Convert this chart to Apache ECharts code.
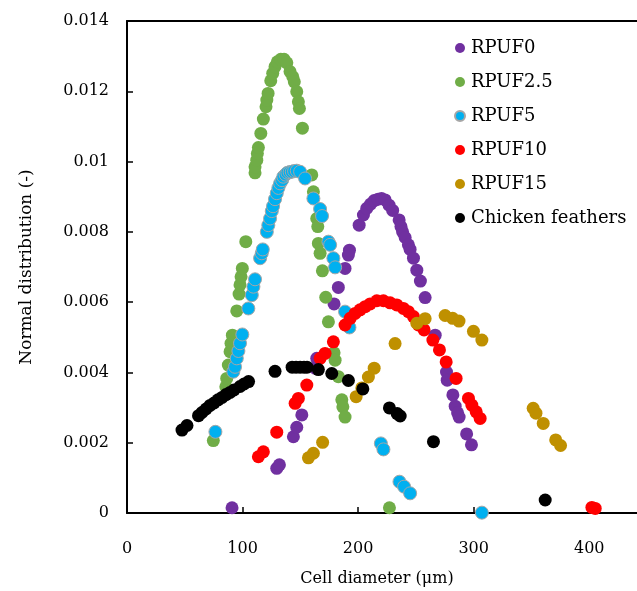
<!DOCTYPE html>
<html>
<head>
<meta charset="utf-8">
<script src="https://cdn.jsdelivr.net/npm/echarts@6/dist/echarts.min.js"></script>
<style>html,body{margin:0;padding:0;background:#fff}#c{width:637px;height:591px}</style>
</head>
<body>
<div id="c"></div>
<script>
const seriesNames = ['RPUF0', 'RPUF2.5', 'RPUF5', 'RPUF10', 'RPUF15', 'Chicken feathers'];
const yTickLabels = ['0', '0.002', '0.004', '0.006', '0.008', '0.01', '0.012', '0.014'];
const xTickLabels = ['0', '100', '200', '300', '400'];

const rpuf0 = [[90.9,0.00015],[129.6,0.00127],[131.9,0.00137],[144.0,0.00217],[146.9,0.00244],[151.3,0.00279],[162.8,0.00412],[164.2,0.0044],[179.2,0.00595],[182.9,0.00642],[188.7,0.00696],[191.6,0.00734],[192.5,0.00748],[200.9,0.00819],[204.6,0.00848],[207.5,0.00867],[210.8,0.00879],[213.9,0.00889],[217.3,0.00893],[220.3,0.00895],[223.4,0.00891],[226.8,0.00876],[229.9,0.00861],[235.5,0.00834],[237.1,0.00815],[238.5,0.008],[240.7,0.00784],[243.5,0.00763],[245.0,0.0075],[247.9,0.00725],[250.8,0.00691],[253.9,0.0066],[258.0,0.00613],[266.7,0.00506],[276.5,0.00401],[277.1,0.00378],[282.0,0.00336],[284.0,0.00304],[286.1,0.00285],[287.4,0.00273],[293.9,0.00225],[298.1,0.00194]];

const rpuf25 = [[74.7,0.00206],[85.5,0.00359],[86.3,0.00383],[87.7,0.00421],[89.2,0.00459],[90.0,0.00483],[91.2,0.00506],[95.0,0.00575],[97.0,0.00623],[97.8,0.00649],[98.7,0.00672],[99.8,0.00696],[102.8,0.00772],[110.8,0.00968],[110.8,0.00985],[112.3,0.01004],[112.8,0.01023],[113.7,0.0104],[115.8,0.0108],[118.0,0.01121],[120.3,0.01156],[121.0,0.01175],[122.1,0.01194],[124.4,0.0123],[126.1,0.01251],[128.1,0.0127],[130.1,0.01284],[133.1,0.01291],[135.9,0.01291],[138.3,0.01281],[141.1,0.01256],[143.5,0.01241],[144.8,0.01227],[146.9,0.01199],[148.3,0.0117],[149.2,0.01151],[151.8,0.01095],[159.9,0.00962],[161.3,0.00914],[164.2,0.00838],[165.1,0.00815],[165.6,0.00767],[167.1,0.00739],[169.1,0.00689],[172.0,0.00614],[174.3,0.00544],[179.2,0.00456],[180.1,0.00435],[182.9,0.00388],[185.9,0.00322],[186.8,0.00302],[188.7,0.00273],[227.1,0.00015]];

const rpuf5 = [[76.5,0.00231],[92.0,0.00402],[93.5,0.00416],[95.0,0.0044],[96.4,0.00461],[97.8,0.00483],[99.8,0.00508],[105.0,0.00582],[108.0,0.0062],[109.4,0.00644],[110.8,0.00665],[115.2,0.00725],[116.6,0.00739],[117.5,0.0075],[121.0,0.008],[122.3,0.00819],[123.8,0.00838],[125.3,0.00859],[126.4,0.00873],[128.1,0.00893],[129.6,0.0091],[131.0,0.00925],[132.5,0.00938],[134.2,0.00947],[135.3,0.00957],[137.2,0.00963],[138.8,0.00968],[140.7,0.0097],[142.6,0.00971],[144.6,0.00973],[146.9,0.00974],[149.8,0.00971],[154.1,0.00952],[161.3,0.00895],[167.1,0.00865],[168.8,0.00845],[174.3,0.00772],[175.8,0.00763],[178.6,0.00725],[180.1,0.00699],[188.7,0.00573],[192.5,0.00528],[219.7,0.00198],[221.9,0.00181],[235.8,0.00089],[239.8,0.00075],[245.0,0.00056],[307.1,0.00001]];

const rpuf10 = [[113.7,0.0016],[118.0,0.00174],[129.6,0.0023],[145.5,0.00312],[148.3,0.00326],[155.6,0.00364],[167.1,0.0044],[171.4,0.00454],[178.6,0.00487],[188.7,0.00535],[193.1,0.00554],[197.4,0.00568],[201.7,0.00578],[206.1,0.00587],[210.4,0.00595],[216.2,0.00604],[221.9,0.00604],[227.7,0.00598],[233.5,0.00592],[239.2,0.00582],[243.5,0.00573],[247.9,0.00559],[252.2,0.00535],[257.1,0.00521],[264.7,0.00492],[270.4,0.00464],[276.2,0.0043],[284.8,0.00383],[295.5,0.00326],[298.4,0.00307],[302.2,0.00288],[305.6,0.00269],[402.3,0.00016],[405.2,0.00013]];

const rpuf15 = [[157.0,0.00157],[161.3,0.0017],[169.3,0.00201],[198.3,0.00331],[203.2,0.00356],[208.9,0.00387],[213.9,0.00412],[232.0,0.00482],[250.8,0.0054],[258.0,0.00553],[275.3,0.00562],[281.8,0.00554],[287.3,0.00546],[299.8,0.00517],[307.1,0.00492],[351.5,0.00298],[353.9,0.00284],[360.2,0.00255],[371.0,0.00208],[375.2,0.00192]];

const chicken = [[47.6,0.00236],[51.9,0.00249],[61.9,0.00277],[64.9,0.00286],[68.4,0.00296],[71.9,0.00306],[75.3,0.00313],[78.8,0.00322],[82.3,0.00329],[85.7,0.00337],[89.2,0.00343],[92.6,0.0035],[97.8,0.0036],[101.3,0.00367],[105.2,0.00374],[128.1,0.00403],[142.9,0.00415],[146.3,0.00415],[149.8,0.00415],[153.2,0.00415],[155.8,0.00415],[165.6,0.00408],[177.2,0.00397],[191.6,0.00377],[204.1,0.00353],[227.1,0.00299],[233.8,0.00283],[236.4,0.00276],[265.2,0.00203],[361.9,0.00037]];

const allData = [rpuf0, rpuf25, rpuf5, rpuf10, rpuf15, chicken];
const colors = ['#7030A0', '#70AD47', '#00B0F0', '#FF0000', '#BF9000', '#000000'];

const FONT = 'DejaVu Serif';
const chart = echarts.init(document.getElementById('c'), null, {renderer: 'canvas'});

chart.setOption({
  animation: false,
  backgroundColor: '#ffffff',
  grid: {left: 127, top: 21, width: 520, height: 492, containLabel: false, outerBoundsMode: 'none'},
  legend: {
    orient: 'vertical',
    left: 454,
    top: 39,
    padding: 0,
    itemWidth: 10,
    itemHeight: 10,
    itemGap: 16,
    icon: 'circle',
    textStyle: {fontFamily: FONT, fontSize: 18, color: '#000', padding: [0, 0, 0, 1]},
    data: seriesNames
  },
  xAxis: [{
    type: 'value',
    min: 0, max: 450, interval: 100,
    name: 'Cell diameter (μm)',
    nameLocation: 'middle',
    nameGap: 58,
    nameTextStyle: {fontFamily: FONT, fontSize: 16, color: '#000', padding: [0, 20, 0, 0]},
    axisLine: {show: true, onZero: false, lineStyle: {color: '#000', width: 2}},
    axisTick: {show: true, inside: true, length: 6, lineStyle: {color: '#000', width: 1.5}},
    axisLabel: {
      margin: 28, fontFamily: FONT, fontSize: 16, color: '#000',
      formatter: function (v) { const i = Math.round(v / 100); return (Math.abs(v - i * 100) < 1e-6 && i < xTickLabels.length) ? xTickLabels[i] : ''; }
    },
    splitLine: {show: false}
  }, {
    type: 'value', position: 'top', min: 0, max: 450,
    axisLine: {show: true, onZero: false, lineStyle: {color: '#000', width: 2}},
    axisTick: {show: false}, axisLabel: {show: false}, splitLine: {show: false}
  }],
  yAxis: {
    type: 'value',
    min: 0, max: 0.014, interval: 0.002,
    name: 'Normal distribution (-)',
    nameLocation: 'middle',
    nameGap: 92,
    nameRotate: 90,
    nameTextStyle: {fontFamily: FONT, fontSize: 17, color: '#000'},
    axisLine: {show: true, onZero: false, lineStyle: {color: '#000', width: 2}},
    axisTick: {show: true, inside: true, length: 6, lineStyle: {color: '#000', width: 1.5}},
    axisLabel: {
      margin: 18, fontFamily: FONT, fontSize: 16, color: '#000',
      formatter: function (v) { return yTickLabels[Math.round(v / 0.002)]; }
    },
    splitLine: {show: false}
  },
  series: allData.map(function (d, i) {
    return {
      name: seriesNames[i],
      type: 'scatter',
      data: d,
      symbol: 'circle',
      symbolSize: 13,
      itemStyle: i === 2
        ? {color: colors[i], borderColor: '#A6A6A6', borderWidth: 1, opacity: 1}
        : {color: colors[i], opacity: 1},
      emphasis: {disabled: true}
    };
  })
});
</script>
</body>
</html>
